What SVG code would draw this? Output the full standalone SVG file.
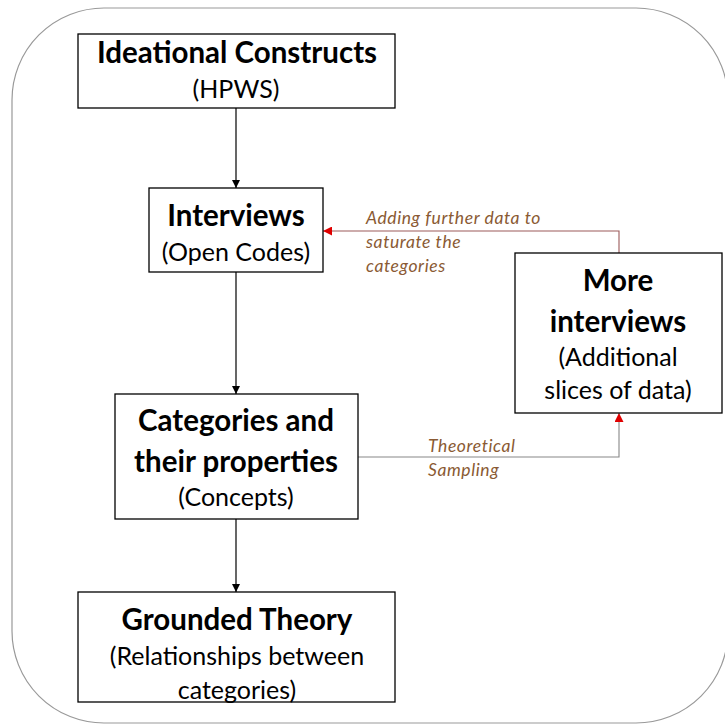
<svg xmlns="http://www.w3.org/2000/svg" width="725" height="726" viewBox="0 0 725 726">
<defs>
<style>
.box{fill:#fff;stroke:#000;stroke-width:1.3}
.t{font-family:Lato,"Open Sans",sans-serif;text-anchor:middle;fill:#000}
.b{font-weight:bold;font-size:29.5px}
.n{font-size:25px}
.lab{font-family:Lato,"Open Sans",sans-serif;font-style:italic;font-size:17.5px;fill:#8a5a33;letter-spacing:0.6px}
.c{fill:none;stroke:#000;stroke-width:1.2}
</style>
<marker id="ab" viewBox="0 0 10 10" refX="10" refY="5" markerWidth="8" markerHeight="8" markerUnits="userSpaceOnUse" orient="auto"><path d="M0,0L10,5L0,10z" fill="#000"/></marker>
<marker id="ar" viewBox="0 0 10 10" refX="10" refY="5" markerWidth="9" markerHeight="9" markerUnits="userSpaceOnUse" orient="auto"><path d="M0,0L10,5L0,10z" fill="#e00000"/></marker>
</defs>
<rect x="12" y="8" width="716" height="715" rx="92" ry="92" fill="#fff" stroke="#999" stroke-width="1.2"/>
<g id="connectors">
<line class="c" x1="236" y1="108" x2="236" y2="188" marker-end="url(#ab)"/>
<line class="c" x1="236" y1="272" x2="236" y2="394" marker-end="url(#ab)"/>
<line class="c" x1="236" y1="519" x2="236" y2="592" marker-end="url(#ab)"/>
<polyline fill="none" stroke="#9b5a5a" stroke-width="1.1" points="619,253 619,231 323,231" marker-end="url(#ar)"/>
<polyline fill="none" stroke="#888" stroke-width="1.1" points="358,457 619,457 619,413" marker-end="url(#ar)"/>
<text class="lab" x="366" y="224" textLength="175">Adding further data to</text>
<text class="lab" x="366" y="248">saturate the</text>
<text class="lab" x="366" y="272">categories</text>
<text class="lab" x="428" y="452">Theoretical</text>
<text class="lab" x="428" y="476">Sampling</text>
</g>
<g id="ideational">
<rect class="box" x="78" y="34" width="317" height="74"/>
<text class="t b" x="237" y="63">Ideational Constructs</text>
<text class="t n" x="236" y="98">(HPWS)</text>
</g>
<g id="interviews">
<rect class="box" x="149" y="188" width="174" height="84"/>
<text class="t b" x="236" y="226">Interviews</text>
<text class="t n" x="236" y="261">(Open Codes)</text>
</g>
<g id="categories">
<rect class="box" x="115" y="394" width="243" height="125"/>
<text class="t b" x="236" y="431">Categories and</text>
<text class="t b" x="236" y="472">their properties</text>
<text class="t n" x="236" y="506">(Concepts)</text>
</g>
<g id="grounded">
<rect class="box" x="78" y="592" width="317" height="110"/>
<text class="t b" x="237" y="630">Grounded Theory</text>
<text class="t n" x="237" y="665">(Relationships between</text>
<text class="t n" x="237" y="699">categories)</text>
</g>
<g id="more">
<rect class="box" x="515" y="253" width="207" height="160"/>
<text class="t b" x="618" y="291">More</text>
<text class="t b" x="618" y="332">interviews</text>
<text class="t n" x="618" y="366">(Additional</text>
<text class="t n" x="618" y="399">slices of data)</text>
</g>
</svg>
